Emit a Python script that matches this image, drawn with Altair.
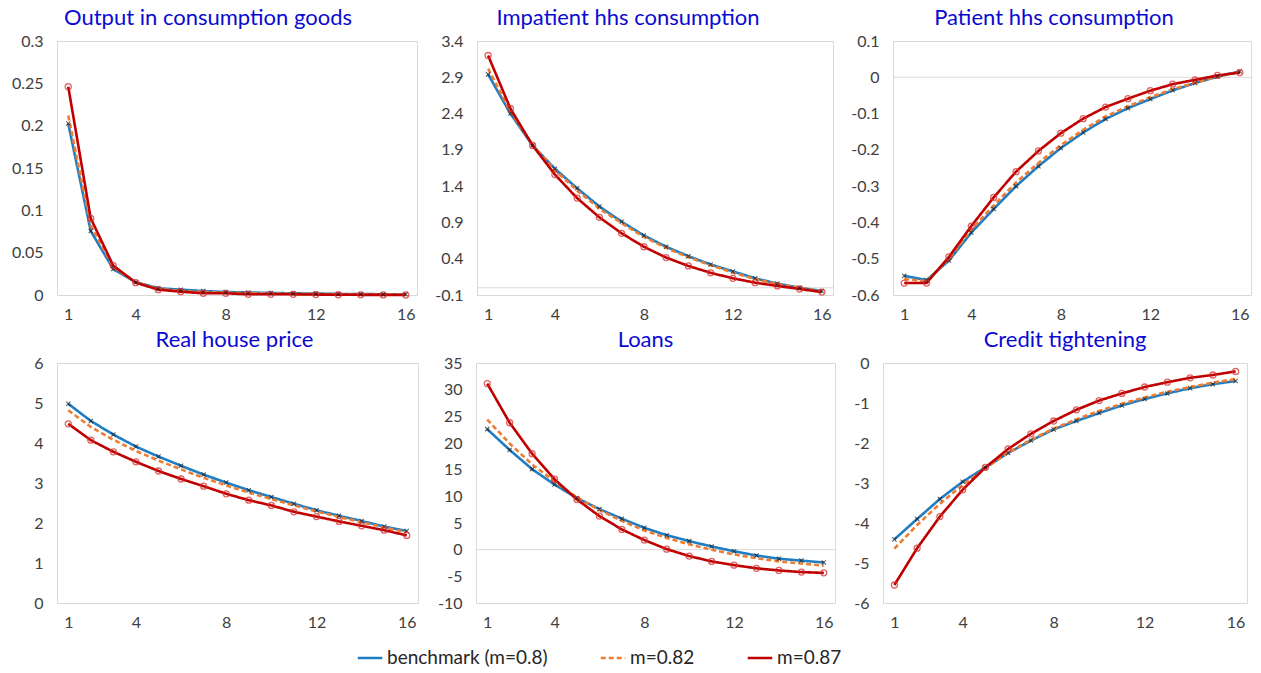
import altair as alt
import pandas as pd

periods = list(range(1, 17))
series_names = ["benchmark (m=0.8)", "m=0.82", "m=0.87"]
series_colors = ["#1F7DC4", "#ED7D31", "#C00000"]

output_bench = [0.2025, 0.0755, 0.0307, 0.015, 0.008, 0.0063, 0.0047, 0.0035, 0.003, 0.0024, 0.002, 0.0017, 0.0013, 0.0011, 0.0009, 0.0008]
output_m82 = [0.212, 0.082, 0.033, 0.015, 0.0075, 0.005, 0.0035, 0.0028, 0.0022, 0.0018, 0.0015, 0.0012, 0.001, 0.0008, 0.0007, 0.0006]
output_m87 = [0.246, 0.0905, 0.0347, 0.0146, 0.0063, 0.0039, 0.002, 0.002, 0.0008, 0.0008, 0.0008, 0.0005, 0.0003, 0.0002, 0.0001, 0.0]

impatient_bench = [2.94, 2.40, 1.96, 1.64, 1.37, 1.12, 0.91, 0.72, 0.565, 0.435, 0.32, 0.225, 0.13, 0.057, 0.0, -0.045]
impatient_m82 = [3.02, 2.43, 1.97, 1.62, 1.34, 1.09, 0.89, 0.70, 0.55, 0.42, 0.31, 0.21, 0.12, 0.05, 0.0, -0.05]
impatient_m87 = [3.20, 2.47, 1.96, 1.56, 1.235, 0.97, 0.75, 0.565, 0.416, 0.30, 0.206, 0.13, 0.07, 0.025, -0.017, -0.06]

patient_bench = [-0.547, -0.559, -0.505, -0.428, -0.363, -0.30, -0.245, -0.195, -0.152, -0.115, -0.085, -0.06, -0.036, -0.016, 0.002, 0.016]
patient_m82 = [-0.556, -0.562, -0.50, -0.42, -0.353, -0.29, -0.236, -0.187, -0.145, -0.108, -0.08, -0.055, -0.033, -0.015, 0.002, 0.015]
patient_m87 = [-0.567, -0.567, -0.495, -0.41, -0.331, -0.26, -0.203, -0.154, -0.114, -0.082, -0.059, -0.037, -0.019, -0.007, 0.005, 0.013]

house_bench = [4.98, 4.55, 4.21, 3.91, 3.66, 3.43, 3.21, 3.01, 2.82, 2.65, 2.48, 2.32, 2.18, 2.05, 1.91, 1.80]
house_m82 = [4.82, 4.40, 4.08, 3.80, 3.56, 3.34, 3.13, 2.94, 2.76, 2.60, 2.44, 2.29, 2.15, 2.02, 1.89, 1.77]
house_m87 = [4.48, 4.07, 3.78, 3.53, 3.30, 3.10, 2.92, 2.73, 2.57, 2.44, 2.28, 2.16, 2.04, 1.93, 1.82, 1.69]

loans_bench = [22.6, 18.7, 15.1, 12.2, 9.7, 7.6, 5.8, 4.1, 2.7, 1.6, 0.6, -0.3, -1.1, -1.7, -2.05, -2.4]
loans_m82 = [24.4, 19.9, 16.0, 12.8, 9.8, 7.4, 5.4, 3.6, 2.2, 1.0, 0.0, -0.9, -1.6, -2.2, -2.6, -3.0]
loans_m87 = [31.15, 23.8, 18.0, 13.2, 9.4, 6.3, 3.8, 1.8, 0.1, -1.2, -2.2, -2.9, -3.5, -3.9, -4.2, -4.35]

credit_bench = [-4.41, -3.90, -3.40, -2.97, -2.61, -2.25, -1.94, -1.66, -1.45, -1.25, -1.06, -0.90, -0.76, -0.63, -0.53, -0.45]
credit_m82 = [-4.64, -4.05, -3.52, -3.05, -2.63, -2.24, -1.92, -1.64, -1.41, -1.20, -1.02, -0.86, -0.72, -0.60, -0.49, -0.40]
credit_m87 = [-5.55, -4.63, -3.84, -3.17, -2.61, -2.15, -1.77, -1.45, -1.17, -0.94, -0.76, -0.60, -0.48, -0.37, -0.30, -0.21]

x_ticks = [1, 4, 8, 12, 16]

FONT = "Lato"
TITLE_COLOR = "#0A0AD2"
LABEL_COLOR = "#404040"
GRID_COLOR = "#D9D9D9"


def make_df(bench, m82, m87):
    rows = []
    for name, vals in zip(series_names, [bench, m82, m87]):
        for p, v in zip(periods, vals):
            rows.append({"period": p, "value": v, "series": name})
    return pd.DataFrame(rows)


def panel(title, bench, m82, m87, ticks, width, height, dx, zero_line):
    df = make_df(bench, m82, m87)
    lo, hi = min(ticks), max(ticks)
    xs = alt.Scale(domain=[0.5, 16.5], nice=False, zero=False)
    ys = alt.Scale(domain=[lo, hi], nice=False, zero=False)
    x_axis = alt.Axis(values=x_ticks, grid=False, ticks=False, domain=False,
                      labelFontSize=16, labelColor=LABEL_COLOR, labelFont=FONT,
                      labelPadding=11, title=None, labelFlush=False)
    y_axis = alt.Axis(values=ticks, grid=False, ticks=False, domain=False,
                      labelFontSize=16, labelColor=LABEL_COLOR, labelFont=FONT,
                      labelPadding=14, title=None, labelExpr="datum.value + ''",
                      labelFlush=False)
    enc_x = alt.X("period:Q", scale=xs, axis=x_axis)
    enc_y = alt.Y("value:Q", scale=ys, axis=y_axis)
    layers = []
    if zero_line:
        zdf = pd.DataFrame({"value": [0.0]})
        layers.append(
            alt.Chart(zdf).mark_rule(color=GRID_COLOR, strokeWidth=1).encode(y=enc_y)
        )
    lines = alt.Chart(df).mark_line(strokeWidth=2.6).encode(
        x=enc_x,
        y=enc_y,
        color=alt.Color("series:N", scale=alt.Scale(domain=series_names, range=series_colors),
                        legend=alt.Legend(title=None, orient="none", direction="horizontal",
                                          legendX=299, legendY=603,
                                          symbolType="stroke", symbolSize=600,
                                          symbolStrokeWidth=2.6, labelFontSize=19,
                                          labelFont=FONT, labelColor="#262626",
                                          labelLimit=400,
                                          columnPadding=47, labelOffset=3)),
        strokeDash=alt.StrokeDash("series:N", scale=alt.Scale(domain=series_names,
                                                              range=[[1, 0], [5, 3], [1, 0]])),
    )
    layers.append(lines)
    bench_pts = alt.Chart(df).transform_filter(
        alt.datum.series == series_names[0]
    ).mark_point(shape="M-1,-1L1,1M-1,1L1,-1", size=18, color="#1a1a1a", strokeWidth=1.1).encode(
        x=enc_x, y=enc_y,
    )
    red_pts = alt.Chart(df).transform_filter(
        alt.datum.series == series_names[2]
    ).mark_point(shape="circle", size=36, filled=False, color="#D83030", strokeWidth=1.3,
                 opacity=0.75).encode(
        x=enc_x, y=enc_y,
    )
    layers += [bench_pts, red_pts]
    return alt.layer(*layers).properties(
        width=width, height=height,
        title=alt.TitleParams(title, fontSize=22, font=FONT, color=TITLE_COLOR,
                              fontWeight="normal", anchor="middle", dx=dx, offset=3),
    )


p1 = panel("Output in consumption goods", output_bench, output_m82, output_m87,
           [0, 0.05, 0.1, 0.15, 0.2, 0.25, 0.3], 360, 254, -29, False)
p2 = panel("Impatient hhs consumption", impatient_bench, impatient_m82, impatient_m87,
           [-0.1, 0.4, 0.9, 1.4, 1.9, 2.4, 2.9, 3.4], 356, 254, -27, True)
p3 = panel("Patient hhs consumption", patient_bench, patient_m82, patient_m87,
           [-0.6, -0.5, -0.4, -0.3, -0.2, -0.1, 0, 0.1], 358, 254, -18, True)
p4 = panel("Real house price", house_bench, house_m82, house_m87,
           [0, 1, 2, 3, 4, 5, 6], 361, 240, -3, False)
p5 = panel("Loans", loans_bench, loans_m82, loans_m87,
           [-10, -5, 0, 5, 10, 15, 20, 25, 30, 35], 359, 240, -10, True)
p6 = panel("Credit tightening", credit_bench, credit_m82, credit_m87,
           [-6, -5, -4, -3, -2, -1, 0], 364, 240, 0, False)

row1 = alt.hconcat(p1, p2, p3, spacing=16)
row2 = alt.hconcat(p4, p5, p6, spacing=17)

chart = alt.vconcat(row1, row2, spacing=5).configure_view(
    stroke=GRID_COLOR, strokeWidth=1
).properties(
    padding={"left": 10, "top": 6, "right": 5, "bottom": 5},
    background="white",
)

chart.save("out.html", embed_options={"renderer": "svg", "actions": False})
